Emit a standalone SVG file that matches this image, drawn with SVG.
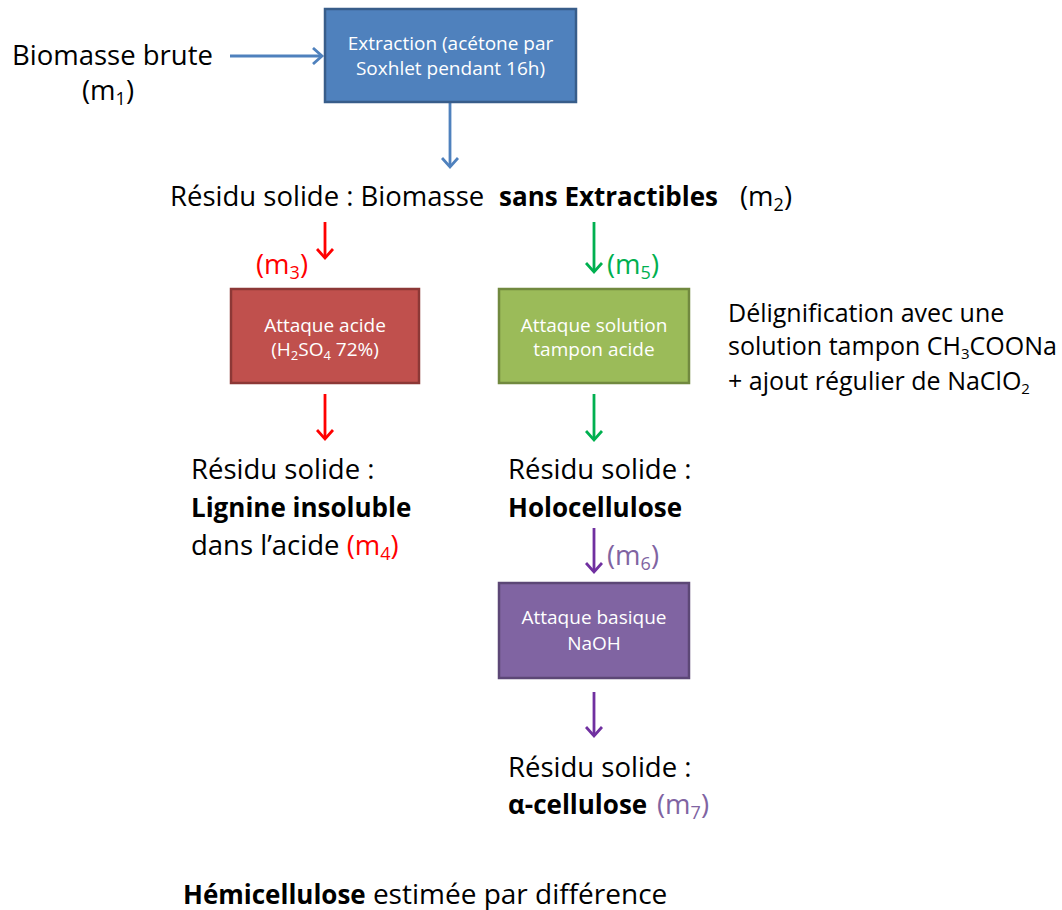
<svg xmlns="http://www.w3.org/2000/svg" width="1062" height="910" viewBox="0 0 1062 910">
<style>
.t{font-family:"Open Sans","Noto Sans","Liberation Sans",sans-serif;font-size:27.5px;fill:#000}
.b{font-weight:bold;font-size:26px}
.bx{font-family:"Open Sans","Noto Sans","Liberation Sans",sans-serif;font-size:19px;fill:#fff;text-anchor:middle}
.n{font-size:25px}
.red{fill:#ff0000}.grn{fill:#00b050}.pur{fill:#8064a2}
.sub{font-size:18px}
</style>
<defs>
<marker id="ab" markerWidth="16" markerHeight="18" refX="11" refY="9" orient="auto" markerUnits="userSpaceOnUse"><path d="M2,1 L11,9 L2,17" fill="none" stroke="#4f81bd" stroke-width="2.8"/></marker>
<marker id="ar" markerWidth="16" markerHeight="18" refX="11" refY="9" orient="auto" markerUnits="userSpaceOnUse"><path d="M2,1 L11,9 L2,17" fill="none" stroke="#ff0000" stroke-width="2.8"/></marker>
<marker id="ag" markerWidth="16" markerHeight="18" refX="11" refY="9" orient="auto" markerUnits="userSpaceOnUse"><path d="M2,1 L11,9 L2,17" fill="none" stroke="#00b050" stroke-width="2.8"/></marker>
<marker id="ap" markerWidth="16" markerHeight="18" refX="11" refY="9" orient="auto" markerUnits="userSpaceOnUse"><path d="M2,1 L11,9 L2,17" fill="none" stroke="#7030a0" stroke-width="2.8"/></marker>
</defs>
<g id="connectors" fill="none" stroke-width="2.8">
<line x1="230" y1="56" x2="322" y2="56" stroke="#4f81bd" marker-end="url(#ab)"/>
<line x1="450" y1="103" x2="450" y2="167" stroke="#4f81bd" marker-end="url(#ab)"/>
<line x1="325" y1="222" x2="325" y2="258" stroke="#ff0000" marker-end="url(#ar)"/>
<line x1="325" y1="394" x2="325" y2="439" stroke="#ff0000" marker-end="url(#ar)"/>
<line x1="594" y1="222" x2="594" y2="272" stroke="#00b050" marker-end="url(#ag)"/>
<line x1="594" y1="394" x2="594" y2="440" stroke="#00b050" marker-end="url(#ag)"/>
<line x1="594" y1="528" x2="594" y2="572" stroke="#7030a0" marker-end="url(#ap)"/>
<line x1="594" y1="692" x2="594" y2="736" stroke="#7030a0" marker-end="url(#ap)"/>
</g>
<g id="input">
<text class="t" x="12" y="65">Biomasse brute</text>
<text class="t" x="82" y="100">(m<tspan class="sub" dy="5">1</tspan><tspan dy="-5">)</tspan></text>
</g>
<g id="extraction">
<rect x="325" y="9" width="251" height="93" fill="#4f81bd" stroke="#385d8a" stroke-width="2.5"/>
<text class="bx" x="450.5" y="50">Extraction (acétone par</text>
<text class="bx" x="450.5" y="75">Soxhlet pendant 16h)</text>
</g>
<g id="residue1">
<text class="t" x="170" y="206">Résidu solide : Biomasse <tspan class="b" x="499">sans Extractibles</tspan><tspan x="740">(m</tspan><tspan class="sub" dy="5">2</tspan><tspan dy="-5">)</tspan></text>
</g>
<g id="m3"><text class="t red" x="256" y="274">(m<tspan class="sub" dy="5">3</tspan><tspan dy="-5">)</tspan></text></g>
<g id="m5"><text class="t grn" x="607" y="274">(m<tspan class="sub" dy="5">5</tspan><tspan dy="-5">)</tspan></text></g>
<g id="acid">
<rect x="231" y="289" width="188" height="94" fill="#c0504d" stroke="#8c3836" stroke-width="2.5"/>
<text class="bx" x="325" y="332">Attaque acide</text>
<text class="bx" x="325" y="356">(H<tspan font-size="13" dy="4">2</tspan><tspan dy="-4">SO</tspan><tspan font-size="13" dy="4">4</tspan><tspan dy="-4"> 72%)</tspan></text>
</g>
<g id="buffer">
<rect x="499" y="289" width="190" height="94" fill="#9bbb59" stroke="#71893f" stroke-width="2.5"/>
<text class="bx" x="594" y="332">Attaque solution</text>
<text class="bx" x="594" y="356">tampon acide</text>
</g>
<g id="note">
<text class="t n" x="728" y="322">Délignification avec une</text>
<text class="t n" x="728" y="355">solution tampon CH<tspan font-size="15" dy="4">3</tspan><tspan dy="-4">COONa</tspan></text>
<text class="t n" x="728" y="390">+ ajout régulier de NaClO<tspan font-size="15" dy="4">2</tspan></text>
</g>
<g id="lignin">
<text class="t" x="191" y="479">Résidu solide :</text>
<text class="t b" x="191" y="517">Lignine insoluble</text>
<text class="t" x="191" y="555">dans l’acide <tspan class="red">(m<tspan class="sub" dy="5">4</tspan><tspan dy="-5">)</tspan></tspan></text>
</g>
<g id="holo">
<text class="t" x="508" y="479">Résidu solide :</text>
<text class="t b" x="508" y="517">Holocellulose</text>
</g>
<g id="m6"><text class="t pur" x="607" y="565">(m<tspan class="sub" dy="5">6</tspan><tspan dy="-5">)</tspan></text></g>
<g id="basic">
<rect x="499" y="583" width="190" height="95" fill="#8064a2" stroke="#5c4776" stroke-width="2.5"/>
<text class="bx" x="594" y="624">Attaque basique</text>
<text class="bx" x="594" y="650">NaOH</text>
</g>
<g id="alpha">
<text class="t" x="508" y="777">Résidu solide :</text>
<text class="t" x="508" y="814"><tspan class="b">α-cellulose</tspan><tspan class="pur" x="657">(m</tspan><tspan class="pur sub" dy="5">7</tspan><tspan class="pur" dy="-5">)</tspan></text>
</g>
<g id="hemi">
<text class="t" x="183" y="904"><tspan class="b">Hémicellulose</tspan> <tspan font-size="28">estimée par différence</tspan></text>
</g>
</svg>
